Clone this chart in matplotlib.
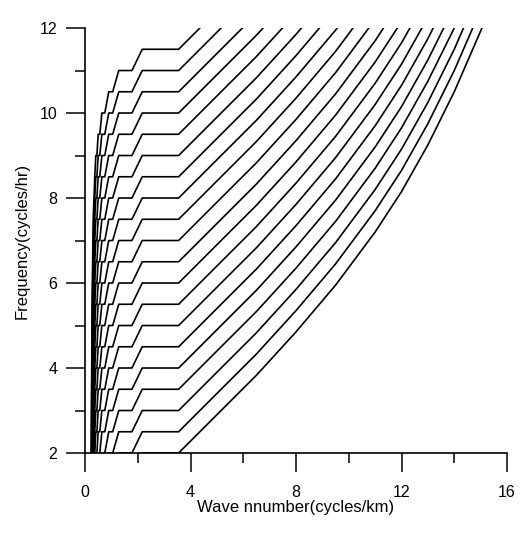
import matplotlib
matplotlib.use("Agg")
import matplotlib.pyplot as plt
from matplotlib.ticker import MultipleLocator

plt.rcParams['font.family'] = ['Liberation Sans', 'DejaVu Sans']

# plateau frequency of each curve (cycles/hr)
levels = [2.0, 2.5, 3.0, 3.5, 4.0, 4.5, 5.0, 5.5, 6.0, 6.5,
          7.0, 7.5, 8.0, 8.5, 9.0, 9.5, 10.0, 10.5, 11.0, 11.5]

# right-hand branch (k, rise above plateau)
right_k = [3.55, 5.0, 6.5, 8.0, 9.5, 11.0, 12.0, 13.0, 14.0, 15.05]
right_df = [0.0, 0.9, 1.83, 2.85, 3.95, 5.2, 6.15, 7.25, 8.5, 10.0]

# left staircase, from the plateau going down towards k -> 0
stair_k = [2.17, 1.78, 1.28, 1.05, 0.90, 0.75, 0.64, 0.56, 0.50, 0.45,
           0.41, 0.37, 0.34, 0.31, 0.29, 0.27, 0.25, 0.24]
stair_df = [0.0, -0.5, -0.5, -1.0, -1.0, -1.5, -1.5, -2.0, -2.0, -2.5,
            -2.5, -3.0, -3.5, -4.0, -5.0, -6.0, -8.0, -10.0]

fig = plt.figure(figsize=(5.26, 5.40), dpi=100)
ax = fig.add_axes([0.1616, 0.1611, 0.8023, 0.787])

for p in levels:
    k = stair_k[::-1] + right_k
    f = [p + d for d in stair_df[::-1]] + [p + d for d in right_df]
    ax.plot(k, f, color='black', lw=1.2)

ax.set_xlim(0, 16)
ax.set_ylim(2, 12)
ax.spines['top'].set_visible(False)
ax.spines['right'].set_visible(False)
for s in ('left', 'bottom'):
    ax.spines[s].set_linewidth(1.2)

ax.xaxis.set_major_locator(MultipleLocator(4))
ax.xaxis.set_minor_locator(MultipleLocator(2))
ax.yaxis.set_major_locator(MultipleLocator(2))
ax.yaxis.set_minor_locator(MultipleLocator(1))
ax.tick_params(which='major', direction='out', length=14, width=1.1,
               labelsize=11.5, pad=6)
ax.tick_params(axis='x', which='major', pad=9)
ax.tick_params(which='minor', direction='out', length=7, width=1.1)

ax.set_xlabel('Wave nnumber(cycles/km)', fontsize=12, labelpad=0)
ax.set_ylabel('Frequency(cycles/hr)', fontsize=12, labelpad=7)

fig.savefig('out.png', dpi=100)
